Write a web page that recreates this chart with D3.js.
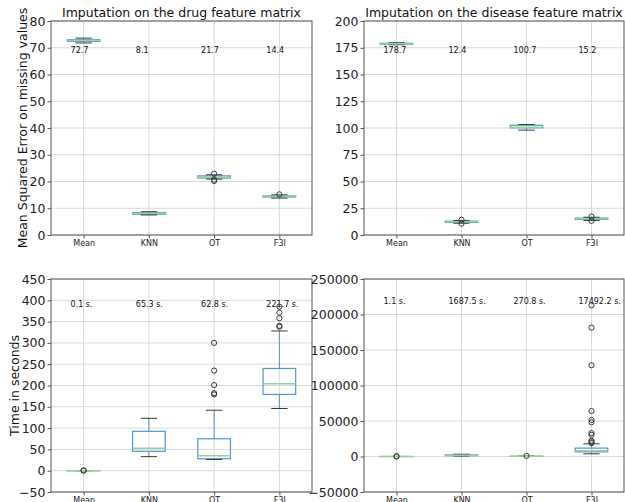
<!DOCTYPE html>
<html>
<head>
<meta charset="utf-8">
<script src="https://cdn.jsdelivr.net/npm/d3@7"></script>
<style>
  html, body { margin: 0; padding: 0; background: #fff; }
  svg { display: block; font-family: "DejaVu Sans", sans-serif; }
</style>
</head>
<body>
<svg id="chart" width="625" height="502"></svg>
<script>
// Methods compared in every panel
const categories = ["Mean", "KNN", "OT", "F3I"];

// Box statistics per method: [lower whisker, Q1, median, Q3, upper whisker]
const drugMseBoxes = [
  [71.8, 72.4, 72.7, 73.0, 73.6],
  [7.5, 7.8, 8.1, 8.4, 8.7],
  [20.9, 21.3, 21.7, 22.1, 22.5],
  [13.8, 14.2, 14.4, 14.6, 15.0]
];
const drugMseOutliers = [[], [], [22.9, 20.7, 20.2], [15.2]];
const drugMseLabels = ["72.7", "8.1", "21.7", "14.4"];

const diseaseMseBoxes = [
  [177.8, 178.3, 178.7, 179.2, 179.6],
  [11.0, 11.8, 12.4, 12.9, 13.6],
  [98.0, 100.2, 100.7, 102.6, 103.3],
  [13.6, 14.6, 15.2, 15.8, 16.6]
];
const diseaseMseOutliers = [[], [14.2, 10.6], [], [17.2, 13.2]];
const diseaseMseLabels = ["178.7", "12.4", "100.7", "15.2"];

const drugTimeBoxes = [
  [0.05, 0.08, 0.1, 0.12, 0.15],
  [33, 45.5, 52.5, 92.5, 123],
  [26.5, 28, 35, 75, 142],
  [146, 179, 204, 240, 328]
];
const drugTimeOutliers = [[0.6, 0.4], [], [300, 235, 201, 182, 179], [385, 371, 358, 340, 338]];
const drugTimeLabels = ["0.1 s.", "65.3 s.", "62.8 s.", "221.7 s."];

const diseaseTimeBoxes = [
  [0.9, 1.0, 1.1, 1.2, 1.3],
  [700, 1200, 1690, 2300, 3200],
  [120, 200, 270, 350, 480],
  [3800, 6600, 8000, 11800, 17900]
];
const diseaseTimeOutliers = [
  [250, 150],
  [],
  [900],
  [213000, 181500, 128500, 64000, 51500, 48200, 33000, 30500, 22300, 20300, 18900]
];
const diseaseTimeLabels = ["1.1 s.", "1687.5 s.", "270.8 s.", "17492.2 s."];

// Y-axis ticks for each panel
const drugMseTicks = [0, 10, 20, 30, 40, 50, 60, 70, 80];
const diseaseMseTicks = [0, 25, 50, 75, 100, 125, 150, 175, 200];
const drugTimeTicks = [-50, 0, 50, 100, 150, 200, 250, 300, 350, 400, 450];
const diseaseTimeTicks = [-50000, 0, 50000, 100000, 150000, 200000, 250000];

const panels = [
  { left: 51, right: 312, top: 21, bottom: 235, domain: [0, 80], ticks: drugMseTicks,
    boxes: drugMseBoxes, outliers: drugMseOutliers, labels: drugMseLabels, labelAt: 70,
    title: "Imputation on the drug feature matrix",
    ylabel: "Mean Squared Error on missing values", ylabelX: 27 },
  { left: 364, right: 624, top: 21, bottom: 235, domain: [0, 200], ticks: diseaseMseTicks,
    boxes: diseaseMseBoxes, outliers: diseaseMseOutliers, labels: diseaseMseLabels, labelAt: 175,
    title: "Imputation on the disease feature matrix" },
  { left: 51, right: 312, top: 279, bottom: 492, domain: [-50, 450], ticks: drugTimeTicks,
    boxes: drugTimeBoxes, outliers: drugTimeOutliers, labels: drugTimeLabels, labelAt: 396,
    ylabel: "Time in seconds", ylabelX: 19 },
  { left: 364, right: 624, top: 279, bottom: 492, domain: [-50000, 250000], ticks: diseaseTimeTicks,
    boxes: diseaseTimeBoxes, outliers: diseaseTimeOutliers, labels: diseaseTimeLabels, labelAt: 221000 }
];

const svg = d3.select("#chart");
const BOX = "#4f94d4", MEDIAN = "#93d393", CAP = "#3a3a3a", GRID = "#d9d9d9", FRAME = "#555";

panels.forEach(p => {
  const x = d3.scaleLinear().domain([0.5, 4.5]).range([p.left, p.right]);
  const y = d3.scaleLinear().domain(p.domain).range([p.bottom, p.top]);
  const g = svg.append("g");

  // grid
  g.selectAll(".hgrid").data(p.ticks).join("line")
    .attr("x1", p.left).attr("x2", p.right)
    .attr("y1", d => y(d)).attr("y2", d => y(d))
    .attr("stroke", GRID).attr("stroke-width", 1);
  g.selectAll(".vgrid").data(categories).join("line")
    .attr("x1", (d, i) => x(i + 1)).attr("x2", (d, i) => x(i + 1))
    .attr("y1", p.top).attr("y2", p.bottom)
    .attr("stroke", GRID).attr("stroke-width", 1);

  // axes
  const yAxis = d3.axisLeft(y).tickValues(p.ticks).tickSize(3.5).tickPadding(2).tickFormat(d3.format("d"));
  const ga = g.append("g").attr("transform", `translate(${p.left},0)`).call(yAxis);
  ga.select(".domain").remove();
  ga.selectAll("line").attr("stroke", FRAME);
  ga.selectAll("text").attr("font-size", 12.5).attr("fill", "#222")
    .attr("font-family", "DejaVu Sans");

  const xAxis = d3.axisBottom(x).tickValues([1, 2, 3, 4]).tickSize(3.5).tickPadding(2)
    .tickFormat(d => categories[d - 1]);
  const gx = g.append("g").attr("transform", `translate(0,${p.bottom})`).call(xAxis);
  gx.select(".domain").remove();
  gx.selectAll("line").attr("stroke", FRAME);
  gx.selectAll("text").attr("font-size", 8).attr("fill", "#222")
    .attr("font-family", "DejaVu Sans");

  // boxes
  const half = (x(1.25) - x(1));
  const capHalf = half / 2;
  p.boxes.forEach((b, i) => {
    const cx = x(i + 1);
    const [lo, q1, med, q3, hi] = b;
    const bg = g.append("g");
    bg.append("line").attr("x1", cx).attr("x2", cx).attr("y1", y(q3)).attr("y2", y(hi))
      .attr("stroke", BOX).attr("stroke-width", 1);
    bg.append("line").attr("x1", cx).attr("x2", cx).attr("y1", y(q1)).attr("y2", y(lo))
      .attr("stroke", BOX).attr("stroke-width", 1);
    bg.append("rect").attr("x", cx - half).attr("width", half * 2)
      .attr("y", y(q3)).attr("height", Math.max(0.01, y(q1) - y(q3)))
      .attr("fill", "none").attr("stroke", BOX).attr("stroke-width", 1.2);
    [lo, hi].forEach(v => bg.append("line")
      .attr("x1", cx - capHalf).attr("x2", cx + capHalf)
      .attr("y1", y(v)).attr("y2", y(v))
      .attr("stroke", CAP).attr("stroke-width", 1));
    bg.append("line").attr("x1", cx - half).attr("x2", cx + half)
      .attr("y1", y(med)).attr("y2", y(med))
      .attr("stroke", MEDIAN).attr("stroke-width", 1.5);
    p.outliers[i].forEach(v => bg.append("circle")
      .attr("cx", cx).attr("cy", y(v)).attr("r", 2.6)
      .attr("fill", "none").attr("stroke", CAP).attr("stroke-width", 1));
    // mean value label
    g.append("text").attr("x", x(i + 1 - 0.2)).attr("y", y(p.labelAt) + 2)
      .attr("dy", "0.35em").attr("font-size", 8).attr("fill", "#111")
      .text(p.labels[i]);
  });

  // frame
  g.append("rect").attr("x", p.left).attr("y", p.top)
    .attr("width", p.right - p.left).attr("height", p.bottom - p.top)
    .attr("fill", "none").attr("stroke", FRAME).attr("stroke-width", 1);

  if (p.title) {
    g.append("text").attr("x", (p.left + p.right) / 2).attr("y", p.top - 4)
      .attr("text-anchor", "middle").attr("font-size", 12.5).attr("fill", "#111")
      .text(p.title);
  }
  if (p.ylabel) {
    g.append("text")
      .attr("transform", `translate(${p.ylabelX},${(p.top + p.bottom) / 2}) rotate(-90)`)
      .attr("text-anchor", "middle").attr("font-size", 12.5).attr("fill", "#111")
      .text(p.ylabel);
  }
});
</script>
</body>
</html>
